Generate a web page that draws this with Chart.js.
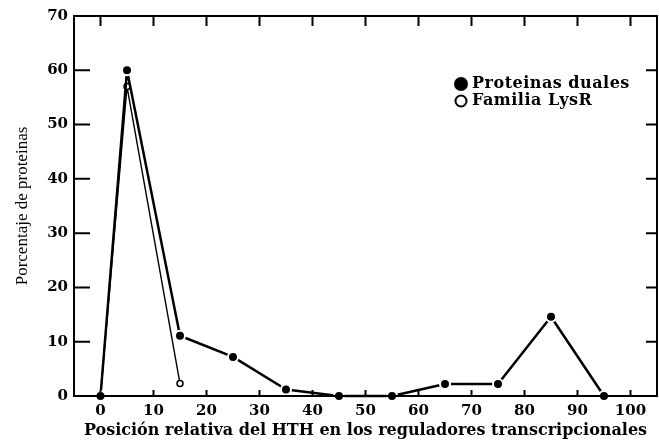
<!DOCTYPE html>
<html>
<head>
<meta charset="utf-8">
<script src="https://cdn.jsdelivr.net/npm/chart.js@4"></script>
<style>
  body { margin: 0; background: #fff; }
</style>
</head>
<body>
<canvas id="grafica" width="659" height="440"></canvas>
<script>
// posiciones relativas del HTH (%)
const posiciones = [0, 5, 15, 25, 35, 45, 55, 65, 75, 85, 95];
const duales = [0, 60, 11.1, 7.2, 1.2, 0, 0, 2.2, 2.2, 14.6, 0];

const posicionesLysR = [0, 5, 15];
const lysR = [0, 57, 2.3];

const etiquetas = ["Proteinas duales", "Familia LysR"];
const ticksX = [0, 10, 20, 30, 40, 50, 60, 70, 80, 90, 100];
const ticksY = [0, 10, 20, 30, 40, 50, 60, 70];

const fuente = "'DejaVu Serif', serif";

// marco con marcas hacia dentro + leyenda dentro del area
const marco = {
    id: "marco",
    afterDraw(chart) {
        const ctx = chart.ctx;
        const a = chart.chartArea;
        const sx = chart.scales.x, sy = chart.scales.y;
        ctx.save();
        ctx.strokeStyle = "#000";
        ctx.lineWidth = 2;
        ctx.strokeRect(a.left, a.top, a.right - a.left, a.bottom - a.top);
        ctx.beginPath();
        ticksX.forEach(v => {
            const px = sx.getPixelForValue(v);
            ctx.moveTo(px, a.bottom); ctx.lineTo(px, a.bottom - 6);
            ctx.moveTo(px, a.top); ctx.lineTo(px, a.top + 10);
        });
        ticksY.forEach(v => {
            const py = sy.getPixelForValue(v);
            ctx.moveTo(a.left, py); ctx.lineTo(a.left + 16, py);
            ctx.moveTo(a.right, py); ctx.lineTo(a.right - 11, py);
        });
        ctx.stroke();

        // leyenda
        ctx.font = "bold 16px " + fuente;
        ctx.letterSpacing = "0.5px";
        ctx.textBaseline = "middle";
        ctx.fillStyle = "#000";
        ctx.beginPath();
        ctx.arc(461, 84, 7, 0, Math.PI * 2);
        ctx.fill();
        ctx.fillText(chart.data.datasets[0].label, 472, 84);
        ctx.beginPath();
        ctx.lineWidth = 2;
        ctx.arc(461, 101, 5.5, 0, Math.PI * 2);
        ctx.stroke();
        ctx.fillText(chart.data.datasets[1].label, 472, 101);
        ctx.restore();
    }
};

new Chart(document.getElementById("grafica"), {
    type: "line",
    data: {
        datasets: [{
            label: etiquetas[0],
            data: posiciones.map((x, i) => ({ x: x, y: duales[i] })),
            borderColor: "#000",
            borderWidth: 2.5,
            borderJoinStyle: "round",
            backgroundColor: "#000",
            pointRadius: 5,
            pointBorderColor: "#fff",
            pointBorderWidth: 2,
            pointBackgroundColor: "#000",
            tension: 0,
            clip: false
        }, {
            label: etiquetas[1],
            data: posicionesLysR.map((x, i) => ({ x: x, y: lysR[i] })),
            borderColor: "#000",
            borderWidth: 1.4,
            borderJoinStyle: "round",
            pointRadius: 3,
            pointBorderWidth: 1.5,
            pointBorderColor: "#000",
            pointBackgroundColor: "#fff",
            tension: 0,
            clip: false
        }]
    },
    options: {
        responsive: false,
        animation: false,
        layout: { autoPadding: false, padding: { top: 16, right: 2, left: 0, bottom: 0 } },
        plugins: {
            legend: { display: false },
            tooltip: { enabled: false }
        },
        scales: {
            x: {
                type: "linear",
                min: -5,
                max: 105,
                afterBuildTicks: s => { s.ticks = ticksX.map(v => ({ value: v })); },
                afterFit: s => { s.height = 44; s.paddingRight = 0; s.paddingLeft = 0; },
                grid: { display: false },
                border: { display: false },
                ticks: {
                    color: "#000",
                    padding: -2,
                    font: { family: fuente, size: 15, weight: "bold" }
                },
                title: {
                    display: true,
                    text: "Posición relativa del HTH en los reguladores transcripcionales",
                    color: "#000",
                    padding: { top: 0, bottom: 0 },
                    font: { family: fuente, size: 16, weight: "bold" }
                }
            },
            y: {
                min: 0,
                max: 70,
                afterBuildTicks: s => { s.ticks = ticksY.map(v => ({ value: v })); },
                afterFit: s => { s.width = 74; },
                grid: { display: false },
                border: { display: false },
                ticks: {
                    color: "#000",
                    padding: -2,
                    font: { family: fuente, size: 15, weight: "bold" }
                },
                title: {
                    display: true,
                    text: "Porcentaje de proteinas",
                    color: "#000",
                    padding: { top: 12, bottom: 0 },
                    font: { family: "'Liberation Serif', serif", size: 17 }
                }
            }
        }
    },
    plugins: [marco]
});
</script>
</body>
</html>
